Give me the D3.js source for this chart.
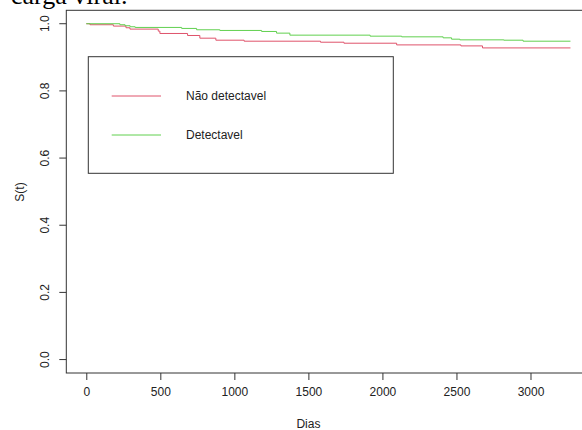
<!DOCTYPE html>
<meta charset="utf-8">
<style>
body { margin: 0; background: #fff; }
svg { display: block; }
.axis text { font: 12px "Liberation Sans", Arial, sans-serif; fill: #222; }
.axis path, .axis line { stroke: #333; }
</style>
<body>
<script src="https://d3js.org/d3.v7.min.js"></script>
<script>
// Kaplan-Meier steps
var seriesNames = ["Não detectavel", "Detectavel"];
var seriesColors = ["#DF536B", "#61D04F"];
var naoTimes = [0, 25, 183, 268, 295, 486, 497, 684, 767, 875, 1066, 1582, 1740, 2096, 2530, 2676, 3270];
var naoSurv  = [1, 0.997, 0.993, 0.988, 0.984, 0.978, 0.971, 0.965, 0.957, 0.951, 0.948, 0.945, 0.942, 0.937, 0.934, 0.928, 0.928];
var detTimes = [0, 227, 262, 296, 330, 644, 745, 902, 1184, 1285, 1375, 1917, 2130, 2410, 2467, 2523, 2820, 2950, 3270];
var detSurv  = [1, 0.997, 0.994, 0.991, 0.989, 0.986, 0.982, 0.980, 0.977, 0.972, 0.966, 0.963, 0.961, 0.958, 0.954, 0.952, 0.951, 0.948, 0.948];
var xTicks = [0, 500, 1000, 1500, 2000, 2500, 3000];
var yTicks = [0, 0.2, 0.4, 0.6, 0.8, 1.0];

var width = 582, height = 430;

var svg = d3.select("body").append("svg")
    .attr("width", width)
    .attr("height", height);

var x = d3.scaleLinear().domain([-135, 3510]).range([66.3, 606]);
var y = d3.scaleLinear().domain([-0.04, 1.04]).range([373, 10.3]);

// cut-off caption from the page above
svg.append("text")
    .attr("x", 11)
    .attr("y", 4)
    .style("font", "26px 'Liberation Serif', 'Times New Roman', serif")
    .attr("fill", "#000")
    .text("carga viral.");

var line = d3.line()
    .curve(d3.curveStepAfter)
    .x(function(d) { return x(d.t); })
    .y(function(d) { return y(d.s); });

var curves = [
  naoTimes.map(function(t, i) { return {t: t, s: naoSurv[i]}; }),
  detTimes.map(function(t, i) { return {t: t, s: detSurv[i]}; })
];

svg.selectAll(".km")
    .data(curves)
  .enter().append("path")
    .attr("class", "km")
    .attr("fill", "none")
    .attr("stroke", function(d, i) { return seriesColors[i]; })
    .attr("stroke-width", 1)
    .attr("d", line);

// plot box
svg.append("rect")
    .attr("x", x.range()[0])
    .attr("y", y.range()[1])
    .attr("width", x.range()[1] - x.range()[0])
    .attr("height", y.range()[0] - y.range()[1])
    .attr("fill", "none")
    .attr("stroke", "#333");

var xAxis = svg.append("g")
    .attr("class", "axis")
    .attr("transform", "translate(0,373)")
    .call(d3.axisBottom(x).tickValues(xTicks).tickSize(7).tickPadding(7).tickFormat(d3.format("d")));
xAxis.select(".domain").remove();

var yAxis = svg.append("g")
    .attr("class", "axis")
    .attr("transform", "translate(66.3,0)")
    .call(d3.axisLeft(y).tickValues(yTicks).tickSize(7).tickFormat(d3.format(".1f")));
yAxis.select(".domain").remove();
yAxis.selectAll("text")
    .attr("transform", function(d) { return "translate(-22," + y(d) + ") rotate(-90)"; })
    .attr("x", 0)
    .attr("dy", "0.35em")
    .attr("text-anchor", "middle");
yAxis.selectAll(".tick").attr("transform", null);
yAxis.selectAll(".tick line").attr("transform", function(d) { return "translate(0," + y(d) + ")"; });

svg.append("text")
    .attr("transform", "translate(20,192) rotate(-90)")
    .attr("text-anchor", "middle")
    .attr("dy", "0.35em")
    .style("font", "12px 'Liberation Sans', Arial, sans-serif")
    .attr("fill", "#222")
    .text("S(t)");

svg.append("text")
    .attr("x", x(1500) - 0)
    .attr("y", 428)
    .attr("text-anchor", "middle")
    .style("font", "12px 'Liberation Sans', Arial, sans-serif")
    .attr("fill", "#222")
    .text("Dias");

// legend
var legend = svg.append("g");
legend.append("rect")
    .attr("x", 88.3).attr("y", 56.7)
    .attr("width", 305).attr("height", 116.6)
    .attr("fill", "#fff")
    .attr("stroke", "#333");
var item = legend.selectAll(".item")
    .data(seriesNames)
  .enter().append("g")
    .attr("class", "item")
    .attr("transform", function(d, i) { return "translate(0," + (96 + i * 39) + ")"; });
item.append("line")
    .attr("x1", 111.7).attr("x2", 161)
    .attr("stroke", function(d, i) { return seriesColors[i]; });
item.append("text")
    .attr("x", 186)
    .attr("dy", "0.35em")
    .style("font", "12px 'Liberation Sans', Arial, sans-serif")
    .attr("fill", "#222")
    .text(function(d) { return d; });
</script>
</body>
